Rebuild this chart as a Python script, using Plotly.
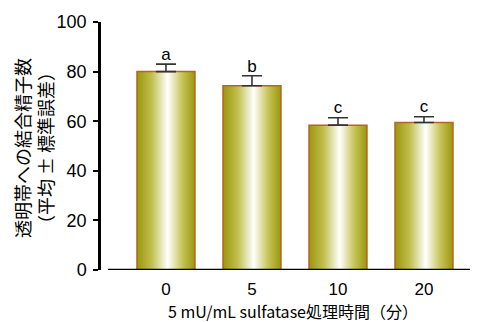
import plotly.graph_objects as go

categories = ["0", "5", "10", "20"]
means = [80.0, 74.3, 58.4, 59.5]
sems = [3.0, 4.0, 3.0, 2.3]
letters = ["a", "b", "c", "c"]
y_ticks = [0, 20, 40, 60, 80, 100]
x_title = "5 mU/mL sulfatase処理時間（分）"
y_title = "透明帯への結合精子数<br>（平均 ± 標準誤差）"

FONT = "Liberation Sans, Arial, sans-serif"
JFONT = "Noto Sans CJK JP, Liberation Sans, sans-serif"
half = 0.337
grad = [[0, "#9a970e"], [0.25, "#c0be4c"], [0.53, "#ffffff"], [0.78, "#c6c458"], [1, "#9a970e"]]

fig = go.Figure()
for i, m in enumerate(means):
    xs = [i - half, i + half, i + half, i - half, i - half]
    ys = [0, 0, m, m, 0]
    fig.add_trace(go.Scatter(
        x=xs, y=ys, mode="lines", fill="toself",
        fillgradient=dict(type="horizontal", colorscale=grad, start=i - half, stop=i + half),
        line=dict(color="#b5651d", width=1.5), showlegend=False, hoverinfo="skip"))

xi = list(range(len(categories)))
fig.add_trace(go.Scatter(
    x=xi, y=means, mode="markers", marker=dict(size=1, opacity=0),
    error_y=dict(type="data", array=sems, arrayminus=[0] * len(sems), symmetric=False,
                 color="#333333", thickness=1.6, width=10),
    showlegend=False, hoverinfo="skip"))

fig.add_trace(go.Scatter(
    x=xi, y=[m + s for m, s in zip(means, sems)], mode="text", text=letters,
    textposition="top center", textfont=dict(family=FONT, size=17, color="#000"),
    showlegend=False, hoverinfo="skip"))

fig.add_shape(type="line", xref="x", yref="y", x0=-0.674, x1=3.535, y0=0, y1=0,
              line=dict(color="#000", width=2.5))

fig.add_annotation(text=x_title, xref="paper", yref="paper", x=0.5, y=0,
                   xanchor="center", yanchor="middle", xshift=8, yshift=-41,
                   showarrow=False, borderpad=0,
                   font=dict(family=JFONT, size=16, color="#000"))
fig.add_annotation(text=y_title, xref="paper", yref="paper", x=0, y=0.5,
                   xanchor="center", yanchor="middle", xshift=-66, yshift=-2,
                   textangle=-90, showarrow=False,
                   font=dict(family=JFONT, size=18, color="#000"))

fig.update_layout(
    width=479, height=322,
    margin=dict(l=99, r=9, t=22, b=52, autoexpand=False),
    paper_bgcolor="white", plot_bgcolor="white",
    xaxis=dict(domain=[9 / 371, 1], range=[-0.674, 3.535], tickmode="array",
               tickvals=xi, ticktext=categories, showline=False, showgrid=False,
               zeroline=False, ticks="", automargin=False, ticklabelstandoff=7,
               tickfont=dict(family=FONT, size=17, color="#000")),
    yaxis=dict(anchor="free", position=0, range=[0, 100], tickvals=y_ticks,
               showline=True, linecolor="#000", linewidth=2.5, showgrid=False,
               zeroline=False, ticks="outside", ticklen=5, tickwidth=2, tickcolor="#000",
               automargin=False, ticklabelstandoff=3,
               tickfont=dict(family=FONT, size=18, color="#000")),
)

fig.write_html("out.html", config={"displayModeBar": False},
               post_script="document.body.style.margin='0';")
